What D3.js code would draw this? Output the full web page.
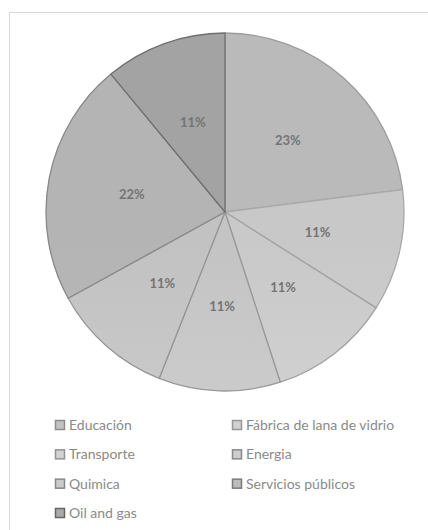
<!DOCTYPE html>
<html>
<head>
<meta charset="utf-8">
<script src="https://cdn.jsdelivr.net/npm/d3@7"></script>
<style>
  body { margin: 0; background: #fff; }
</style>
</head>
<body>
<svg id="pie-chart"></svg>
<script>
/*Pie Chart*/

var categories = ["Educación", "Fábrica de lana de vidrio", "Transporte", "Energia", "Quimica", "Servicios públicos", "Oil and gas"];
var values = [23, 11, 11, 11, 11, 22, 11];
var pctLabels = ["23%", "11%", "11%", "11%", "11%", "22%", "11%"];

var fills = ["#c2c2c2", "#d1d1d1", "#d2d2d2", "#cdcdcd", "#cbcbcb", "#bcbcbc", "#aaaaaa"];
var strokes = ["#9c9c9c", "#a8a8a8", "#a2a2a2", "#999999", "#969696", "#888888", "#6f6f6f"];

var width = 428, height = 530;
var cx = 225, cy = 212, radius = 179;

var svg = d3.select("#pie-chart")
  .attr("width", width)
  .attr("height", height);

// chart area border (only top / left visible)
svg.append("rect")
  .attr("x", 9.5)
  .attr("y", 12.5)
  .attr("width", width + 20)
  .attr("height", height + 20)
  .attr("fill", "#fff")
  .attr("stroke", "#d9d9d9")
  .attr("stroke-width", 1);

var defs = svg.append("defs");
fills.forEach(function (c, i) {
  var grad = defs.append("linearGradient")
    .attr("id", "g" + i)
    .attr("gradientUnits", "userSpaceOnUse")
    .attr("x1", 0).attr("y1", cy - radius)
    .attr("x2", 0).attr("y2", cy + radius);
  grad.append("stop").attr("offset", "0%").attr("stop-color", d3.color(c).darker(0.12));
  grad.append("stop").attr("offset", "100%").attr("stop-color", d3.color(c).brighter(0.1));
});

var g = svg.append("g")
  .attr("transform", "translate(" + cx + "," + cy + ")");

var pie = d3.pie().sort(null).value(function (d) { return d; });
var arcs = pie(values);

var arc = d3.arc().innerRadius(0).outerRadius(radius);
var labelArc = d3.arc().innerRadius(radius * 0.53).outerRadius(radius * 0.53);

g.selectAll("path")
  .data(arcs)
  .enter()
  .append("path")
  .attr("d", arc)
  .attr("fill", function (d, i) { return "url(#g" + i + ")"; })
  .attr("stroke", function (d, i) { return strokes[i]; })
  .attr("stroke-width", 1.3)
  .attr("stroke-linejoin", "round");

g.selectAll("text")
  .data(arcs)
  .enter()
  .append("text")
  .attr("transform", function (d) { return "translate(" + labelArc.centroid(d) + ")"; })
  .attr("text-anchor", "middle")
  .attr("dy", "0.35em")
  .style("font-family", "Lato, 'Open Sans', sans-serif")
  .style("font-size", "13px")
  .style("font-weight", "bold")
  .attr("fill", "#747474")
  .text(function (d, i) { return pctLabels[i]; });

// legend
var legX = d3.scalePoint().domain([0, 1]).range([55, 232]);
var legY = d3.scalePoint().domain([0, 1, 2, 3]).range([425, 513]);

var leg = svg.selectAll(".leg")
  .data(categories)
  .enter()
  .append("g")
  .attr("class", "leg")
  .attr("transform", function (d, i) {
    return "translate(" + legX(i % 2) + "," + legY(Math.floor(i / 2)) + ")";
  });

leg.append("rect")
  .attr("x", 0.5)
  .attr("y", -4.5)
  .attr("width", 9)
  .attr("height", 9)
  .attr("fill", function (d, i) { return fills[i]; })
  .attr("stroke", function (d, i) { return d3.color(strokes[i]).darker(0.3); })
  .attr("stroke-width", 1.5);

leg.append("text")
  .attr("x", 14)
  .attr("y", 0)
  .attr("dy", "0.35em")
  .style("font-family", "Lato, 'Open Sans', sans-serif")
  .style("font-size", "14px")
  .attr("fill", "#8a8a8a")
  .text(function (d) { return d; });
</script>
</body>
</html>
